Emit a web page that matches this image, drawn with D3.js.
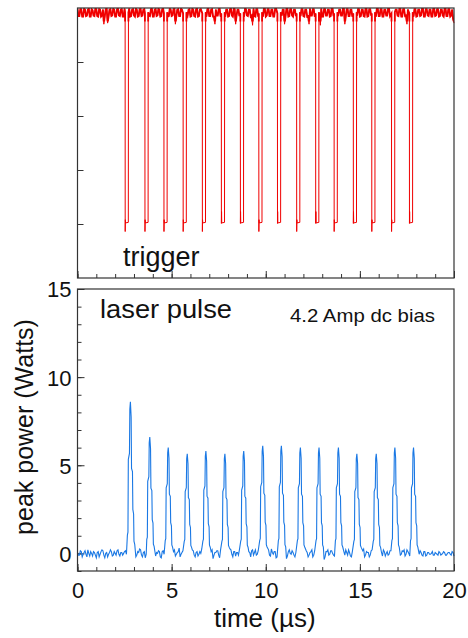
<!DOCTYPE html>
<html>
<head>
<meta charset="utf-8">
<script src="https://cdn.jsdelivr.net/npm/d3@7"></script>
<style>
  html, body { margin: 0; padding: 0; background: #fff; }
  svg { display: block; }
  text { font-family: "Liberation Sans", Arial, sans-serif; fill: #111; }
</style>
</head>
<body>
<div id="chart"></div>
<script>
// ---------------- data ----------------
const xTickValues = [0, 5, 10, 15, 20];
const yTickValues = [0, 5, 10, 15];
const topTickValues = [0, 1, 2, 3];

// laser pulse (bottom panel): baseline samples at 0, 0.1, ... 20 us
const blueBaseline = [
  0.05,-0.1,0.1,-0.05,0.15,-0.2,0.0,0.1,-0.15,0.05,-0.25,
  0.1,-0.05,0.2,-0.1,0.0,-0.2,0.05,0.1,-0.1,0.0,
  0.15,-0.05,0.05,-0.1,0.1,-0.05,0.0,0.05,-0.1,0.15,
  -0.2,0.1,0.25,-0.1,0.05,-0.25,0.1,0.0,-0.05,0.2,
  -0.1,0.05,0.15,-0.2,0.1,-0.05,0.2,0.0,-0.1,0.05,
  0.1,-0.15,0.05,0.3,-0.05,0.15,-0.2,0.05,0.0,-0.1,
  0.2,-0.1,0.05,-0.15,0.1,0.25,-0.05,0.0,0.1,-0.2,
  0.1,-0.3,0.05,0.15,-0.1,0.2,0.0,-0.05,0.1,-0.1,
  0.25,-0.05,0.1,-0.15,0.05,0.2,-0.1,0.0,0.15,-0.05,
  0.1,-0.2,0.2,0.05,-0.1,0.15,-0.25,0.05,0.1,0.0,
  0.15,-0.1,0.25,-0.05,0.1,-0.2,0.05,0.2,-0.1,0.05,
  -0.3,0.1,0.0,0.15,-0.1,0.05,0.2,-0.05,0.1,-0.15,
  0.2,0.05,-0.1,0.1,-0.2,0.15,0.0,-0.1,0.05,0.1,
  -0.35,0.1,0.2,-0.05,0.15,-0.1,0.05,0.25,-0.1,0.0,
  0.15,-0.1,0.05,0.2,-0.15,0.1,0.0,-0.05,0.2,-0.1,
  0.1,0.25,-0.1,0.05,-0.2,0.15,0.0,0.1,-0.05,0.05,
  0.2,-0.15,0.1,0.0,-0.1,0.15,0.05,-0.2,0.1,0.0,
  0.15,-0.05,0.1,-0.15,0.2,0.0,-0.1,0.05,0.1,0.2,
  -0.2,0.15,-0.1,0.1,-0.15,0.05,-0.05,0.0,-0.1,0.05,
  -0.05,0.1,-0.1,0.0,0.05,-0.1,0.05,-0.05,0.1,-0.15
];
// laser pulse baseline samples at 0.05, 0.15, ... 19.95 us
const blueBaselineMid = [
  -0.1,0.15,-0.2,0.05,-0.05,0.2,-0.15,0.0,0.1,-0.1,
  0.05,-0.2,0.1,0.15,-0.25,0.05,-0.05,0.2,-0.15,0.1,
  -0.1,0.2,-0.15,0.05,0.0,0.15,-0.2,0.1,0.05,-0.05,
  0.15,-0.1,0.05,0.2,-0.2,0.1,-0.05,0.15,-0.1,0.05,
  0.2,-0.15,0.0,0.1,-0.25,0.15,-0.1,0.05,0.2,-0.05,
  -0.1,0.2,-0.05,0.1,-0.2,0.05,0.15,-0.1,0.25,-0.15,
  0.05,0.15,-0.2,0.1,-0.05,0.0,0.2,-0.15,0.05,0.1,
  -0.15,0.2,-0.1,0.05,0.15,-0.25,0.1,0.0,-0.1,0.15,
  -0.05,0.2,-0.2,0.1,0.05,-0.1,0.25,-0.15,0.05,0.1,
  -0.2,0.05,0.15,-0.1,0.2,-0.05,0.1,-0.2,0.05,0.15,
  -0.1,0.2,-0.15,0.05,0.1,-0.25,0.15,0.0,-0.05,0.2,
  0.1,-0.15,0.2,-0.05,0.05,-0.2,0.1,0.15,-0.1,0.05,
  -0.1,0.15,-0.2,0.05,0.2,-0.1,0.05,-0.15,0.1,0.2,
  0.05,-0.2,0.1,-0.1,0.15,0.0,-0.15,0.1,0.2,-0.05,
  -0.15,0.1,0.2,-0.1,0.05,-0.2,0.15,0.05,-0.1,0.15,
  -0.05,0.15,-0.2,0.1,0.05,-0.1,0.2,-0.15,0.05,0.1,
  -0.1,0.05,0.2,-0.15,0.1,-0.05,0.15,0.0,-0.2,0.1,
  0.05,-0.1,0.15,0.2,-0.05,0.1,-0.15,0.05,0.2,-0.1,
  0.1,-0.05,0.05,-0.15,0.1,-0.1,0.05,-0.05,0.1,-0.1,
  0.0,-0.1,0.05,-0.05,0.1,-0.1,0.0,0.05,-0.1,0.05
];
const bluePeakTimes   = [2.81,3.84,4.82,5.83,6.82,7.83,8.83,9.84,10.83,11.84,12.83,13.86,14.84,15.87,16.86,17.85];
const bluePeakHeights = [8.6,6.6,6.0,5.65,5.8,5.65,5.8,6.1,6.1,6.0,6.0,6.0,5.65,5.65,6.0,6.0];
// pulse profile (stepped): time offsets from the peak (us) and fraction of peak height
const pulseOffsets   = [-0.16,-0.13,-0.11,-0.05,-0.03,0,0.04,0.06,0.11,0.13,0.17,0.19,0.23];
const pulseFractions = [0.12,0.14,0.62,0.66,0.95,1,0.9,0.56,0.54,0.29,0.26,0.08,0.06];

// trigger (top panel): baseline samples at 0, 0.1, ... 20 us
const redBaseline = [
  3.99,3.85,3.98,3.84,3.97,3.86,3.99,3.84,3.96,3.85,3.98,
  3.84,3.97,3.86,3.70,3.98,3.72,3.97,3.85,3.99,3.84,
  3.98,3.86,3.97,3.84,3.99,3.85,3.98,3.84,3.97,3.86,
  3.99,3.84,3.98,3.85,3.97,3.84,3.99,3.86,3.98,3.84,
  3.97,3.85,3.99,3.84,3.98,3.86,3.97,3.84,3.99,3.85,
  3.98,3.70,3.97,3.85,3.99,3.84,3.98,3.86,3.97,3.84,
  3.99,3.85,3.98,3.84,3.97,3.86,3.99,3.84,3.98,3.85,
  3.97,3.84,3.70,3.86,3.98,3.84,3.99,3.85,3.97,3.84,
  3.98,3.86,3.99,3.70,3.97,3.85,3.98,3.84,3.99,3.86,
  3.97,3.84,3.68,3.85,3.98,3.84,3.97,3.86,3.99,3.84,
  3.98,3.85,3.97,3.84,3.99,3.86,3.98,3.84,3.97,3.70,
  3.99,3.84,3.98,3.86,3.97,3.85,3.99,3.84,3.98,3.85,
  3.97,3.84,3.70,3.86,3.98,3.84,3.99,3.85,3.68,3.84,
  3.98,3.86,3.97,3.84,3.99,3.85,3.98,3.84,3.97,3.86,
  3.99,3.70,3.98,3.85,3.97,3.84,3.99,3.86,3.98,3.84,
  3.97,3.85,3.99,3.84,3.98,3.86,3.97,3.84,3.99,3.85,
  3.98,3.84,3.97,3.86,3.99,3.85,3.98,3.84,3.97,3.86,
  3.99,3.84,3.98,3.85,3.70,3.84,3.99,3.86,3.98,3.84,
  3.97,3.85,3.99,3.84,3.98,3.86,3.97,3.84,3.99,3.85,
  3.98,3.84,3.97,3.86,3.99,3.85,3.98,3.84,3.97,3.72
];
// trigger baseline samples at 0.05, 0.15, ... 19.95 us
const redBaselineMid = [
  3.85,3.98,3.84,3.99,3.85,3.97,3.84,3.98,3.86,3.99,
  3.85,3.98,3.84,3.97,3.85,3.99,3.84,3.98,3.86,3.97,
  3.84,3.99,3.85,3.98,3.84,3.97,3.86,3.99,3.85,3.98,
  3.84,3.97,3.85,3.99,3.86,3.98,3.84,3.97,3.85,3.99,
  3.84,3.98,3.86,3.97,3.85,3.99,3.84,3.98,3.85,3.97,
  3.86,3.99,3.84,3.98,3.85,3.97,3.84,3.99,3.86,3.98,
  3.85,3.97,3.84,3.99,3.85,3.98,3.86,3.97,3.84,3.99,
  3.85,3.98,3.84,3.97,3.86,3.99,3.85,3.98,3.84,3.97,
  3.85,3.99,3.84,3.98,3.86,3.97,3.85,3.99,3.84,3.98,
  3.85,3.97,3.86,3.99,3.84,3.98,3.85,3.97,3.84,3.99,
  3.86,3.98,3.85,3.97,3.84,3.99,3.85,3.98,3.86,3.97,
  3.84,3.99,3.85,3.98,3.84,3.97,3.86,3.99,3.85,3.98,
  3.84,3.97,3.85,3.99,3.86,3.98,3.84,3.97,3.85,3.99,
  3.84,3.98,3.86,3.97,3.85,3.99,3.84,3.98,3.85,3.97,
  3.86,3.99,3.84,3.98,3.85,3.97,3.84,3.99,3.86,3.98,
  3.85,3.97,3.84,3.99,3.85,3.98,3.86,3.97,3.84,3.99,
  3.85,3.98,3.84,3.97,3.86,3.99,3.85,3.98,3.84,3.97,
  3.85,3.99,3.84,3.98,3.86,3.97,3.85,3.99,3.84,3.98,
  3.85,3.97,3.86,3.99,3.84,3.98,3.85,3.97,3.84,3.99,
  3.86,3.98,3.85,3.97,3.84,3.99,3.85,3.98,3.86,3.80
];
const redEdgeTimes = [2.53,3.58,4.59,5.61,6.63,7.64,8.65,9.63,10.62,11.64,12.65,13.63,14.65,15.63,16.68,17.63];
const redBottoms   = [-0.14,-0.14,-0.14,-0.14,-0.14,0.01,0.01,-0.14,0.01,-0.14,0.01,-0.14,0.01,-0.14,-0.14,0.01];
// trigger dip profile: offsets from falling edge (us) and levels (null = bottom, "b+" = just above bottom)
const dipOffsets = [0, 0.004, 0.012, 0.022, 0.17, 0.176];
const dipLevels  = [3.9, null, "b+", 0.02, 0.03, 3.92];

const baseStep = 0.1;

// ---------------- build traces ----------------
function baselinePoints(main, mid) {
  const pts = [];
  main.forEach((v, i) => pts.push([i * baseStep, v]));
  mid.forEach((v, j) => pts.push([j * baseStep + baseStep / 2, v]));
  return pts;
}
function buildBlue() {
  const pts = baselinePoints(blueBaseline, blueBaselineMid)
    .filter(([t]) => !bluePeakTimes.some(tp => t > tp - 0.19 && t < tp + 0.27));
  bluePeakTimes.forEach((tp, k) => {
    pulseOffsets.forEach((o, j) => pts.push([tp + o, bluePeakHeights[k] * pulseFractions[j]]));
  });
  return pts.sort((a, b) => a[0] - b[0]);
}
function buildRed() {
  const pts = baselinePoints(redBaseline, redBaselineMid)
    .filter(([t]) => !redEdgeTimes.some(td => t > td - 0.03 && t < td + 0.2));
  redEdgeTimes.forEach((td, k) => {
    dipOffsets.forEach((o, j) => {
      let lv = dipLevels[j];
      if (lv === null) lv = redBottoms[k];
      else if (lv === "b+") lv = redBottoms[k] + 0.22;
      pts.push([td + o, lv]);
    });
  });
  return pts.sort((a, b) => a[0] - b[0]);
}

// ---------------- drawing ----------------
const W = 468, H = 638;
const svg = d3.select("#chart").append("svg").attr("width", W).attr("height", H);
svg.append("rect").attr("width", W).attr("height", H).attr("fill", "#fff");

const xL = 77.5, xR = 454;
const topP = { y0: 8, y1: 278 };
const botP = { y0: 289, y1: 571 };

const x = d3.scaleLinear().domain([0, 20]).range([xL, xR]);
const yTop = d3.scaleLinear().domain([-1, 4]).range([topP.y1, topP.y0]);
const yBot = d3.scaleLinear().domain([-1, 15]).range([botP.y1, botP.y0]);

const axisColor = "#333";
function styleAxis(g) {
  g.select(".domain").remove();
  g.selectAll(".tick line").attr("stroke", axisColor).attr("stroke-width", 1);
}

// clip for the dense noise band of the trigger trace
svg.append("defs").append("clipPath").attr("id", "bandClip")
  .append("rect").attr("x", xL).attr("y", topP.y0)
  .attr("width", xR - xL).attr("height", yTop(3.75) - topP.y0);

// ---- top panel ----
const gTop = svg.append("g");
gTop.append("g").attr("transform", `translate(0,${topP.y1})`)
  .call(d3.axisBottom(x).tickValues(d3.range(0, 21, 1)).tickSize(-4).tickFormat(""))
  .call(styleAxis);
gTop.append("g").attr("transform", `translate(0,${topP.y1})`)
  .call(d3.axisBottom(x).tickValues(xTickValues).tickSize(-7).tickFormat(""))
  .call(styleAxis);
gTop.append("g").attr("transform", `translate(${xL},0)`)
  .call(d3.axisLeft(yTop).tickValues(topTickValues).tickSize(-6).tickFormat(""))
  .call(styleAxis);

const redLine = d3.line().x(d => x(d[0])).y(d => yTop(d[1]));
const redData = buildRed();
gTop.append("path").datum(redData)
  .attr("d", redLine).attr("fill", "none")
  .attr("stroke", "#f00000").attr("stroke-width", 1);
gTop.append("path").datum(redData)
  .attr("d", redLine).attr("fill", "none").attr("clip-path", "url(#bandClip)")
  .attr("stroke", "#f00000").attr("stroke-width", 1.8);

gTop.append("rect").attr("x", xL).attr("y", topP.y0)
  .attr("width", xR - xL).attr("height", topP.y1 - topP.y0)
  .attr("fill", "none").attr("stroke", axisColor).attr("stroke-width", 1.2);

gTop.append("text").attr("x", 123).attr("y", 266)
  .attr("font-size", 27).text("trigger");

// ---- bottom panel ----
const gBot = svg.append("g");
gBot.append("g").attr("transform", `translate(0,${botP.y1})`)
  .call(d3.axisBottom(x).tickValues(d3.range(0, 21, 1)).tickSize(-4).tickFormat(""))
  .call(styleAxis);
const xAx = gBot.append("g").attr("transform", `translate(0,${botP.y1})`)
  .call(d3.axisBottom(x).tickValues(xTickValues).tickSize(-7).tickPadding(0).tickFormat(d3.format("d")))
  .call(styleAxis);
xAx.selectAll(".tick text").attr("y", 27).attr("dy", 0)
  .attr("font-size", 22).attr("font-family", "Liberation Sans, Arial, sans-serif").attr("fill", "#111");

gBot.append("g").attr("transform", `translate(${xL},0)`)
  .call(d3.axisLeft(yBot).tickValues(d3.range(-1, 16, 1)).tickSize(-4).tickFormat(""))
  .call(styleAxis);
const yAx = gBot.append("g").attr("transform", `translate(${xL},0)`)
  .call(d3.axisLeft(yBot).tickValues(yTickValues).tickSize(-7).tickFormat(d3.format("d")))
  .call(styleAxis);
yAx.selectAll(".tick text").attr("x", -6).attr("dy", "0.36em")
  .attr("font-size", 22).attr("font-family", "Liberation Sans, Arial, sans-serif").attr("fill", "#111");

const blueLine = d3.line().x(d => x(d[0])).y(d => yBot(d[1]));
gBot.append("path").datum(buildBlue())
  .attr("d", blueLine).attr("fill", "none")
  .attr("stroke", "#1a78e4").attr("stroke-width", 1.1);

gBot.append("rect").attr("x", xL).attr("y", botP.y0)
  .attr("width", xR - xL).attr("height", botP.y1 - botP.y0)
  .attr("fill", "none").attr("stroke", axisColor).attr("stroke-width", 1.2);

gBot.append("text").attr("x", 100).attr("y", 318)
  .attr("font-size", 25).attr("textLength", 132).attr("lengthAdjust", "spacingAndGlyphs")
  .text("laser pulse");
gBot.append("text").attr("x", 290).attr("y", 322)
  .attr("font-size", 19).attr("textLength", 145).attr("lengthAdjust", "spacingAndGlyphs")
  .text("4.2 Amp dc bias");

// axis titles
svg.append("text").attr("x", (xL + xR) / 2 - 1).attr("y", 627)
  .attr("text-anchor", "middle").attr("font-size", 26).text("time (µs)");
svg.append("text")
  .attr("transform", `translate(33,${427}) rotate(-90)`)
  .attr("text-anchor", "middle").attr("font-size", 25).text("peak power (Watts)");
</script>
</body>
</html>
